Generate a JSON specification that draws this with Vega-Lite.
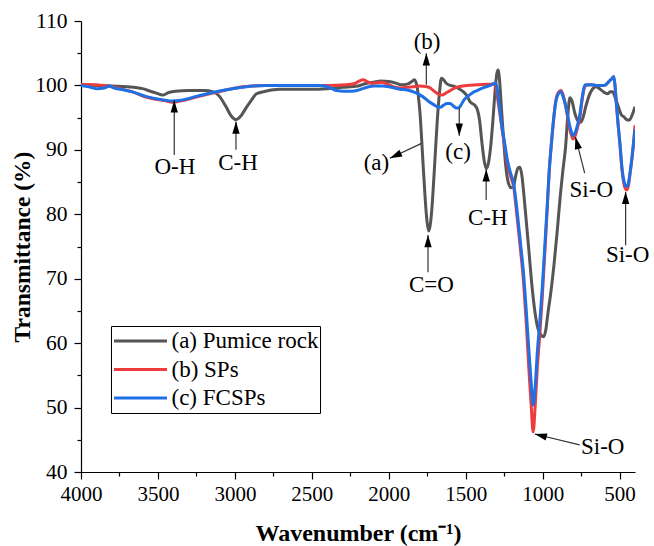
{
  "$schema": "https://vega.github.io/schema/vega-lite/v6.json",
  "width": 554,
  "height": 451,
  "autosize": {"type": "none"},
  "padding": {"left": 81, "top": 21, "right": 19, "bottom": 74},
  "background": "white",
  "config": {
    "font": "Liberation Serif",
    "view": {"stroke": null},
    "axis": {"grid": false, "labelFont": "Liberation Serif", "titleFont": "Liberation Serif", "labelFlush": false, "labelOverlap": false},
    "legend": {"labelFont": "Liberation Serif"},
    "text": {"font": "Liberation Serif"}
  },
  "datasets": {
    "spectra": [
      {"sample":"(a) Pumice rock","wn":4000,"T":100.1},{"sample":"(a) Pumice rock","wn":3900,"T":100.0},{"sample":"(a) Pumice rock","wn":3800,"T":99.9},{"sample":"(a) Pumice rock","wn":3700,"T":99.8},{"sample":"(a) Pumice rock","wn":3600,"T":99.5},{"sample":"(a) Pumice rock","wn":3550,"T":99.1},{"sample":"(a) Pumice rock","wn":3510,"T":98.8},{"sample":"(a) Pumice rock","wn":3470,"T":98.5},{"sample":"(a) Pumice rock","wn":3430,"T":98.9},{"sample":"(a) Pumice rock","wn":3385,"T":99.1},{"sample":"(a) Pumice rock","wn":3300,"T":99.2},{"sample":"(a) Pumice rock","wn":3200,"T":99.2},{"sample":"(a) Pumice rock","wn":3140,"T":99.0},{"sample":"(a) Pumice rock","wn":3100,"T":98.3},{"sample":"(a) Pumice rock","wn":3060,"T":96.8},{"sample":"(a) Pumice rock","wn":3025,"T":95.3},{"sample":"(a) Pumice rock","wn":2993,"T":94.7},{"sample":"(a) Pumice rock","wn":2960,"T":95.3},{"sample":"(a) Pumice rock","wn":2925,"T":96.6},{"sample":"(a) Pumice rock","wn":2890,"T":97.8},{"sample":"(a) Pumice rock","wn":2860,"T":98.7},{"sample":"(a) Pumice rock","wn":2800,"T":99.1},{"sample":"(a) Pumice rock","wn":2710,"T":99.4},{"sample":"(a) Pumice rock","wn":2600,"T":99.4},{"sample":"(a) Pumice rock","wn":2500,"T":99.4},{"sample":"(a) Pumice rock","wn":2400,"T":99.5},{"sample":"(a) Pumice rock","wn":2300,"T":99.7},{"sample":"(a) Pumice rock","wn":2200,"T":99.9},{"sample":"(a) Pumice rock","wn":2150,"T":100.3},{"sample":"(a) Pumice rock","wn":2100,"T":100.5},{"sample":"(a) Pumice rock","wn":2050,"T":100.7},{"sample":"(a) Pumice rock","wn":2000,"T":100.6},{"sample":"(a) Pumice rock","wn":1960,"T":100.4},{"sample":"(a) Pumice rock","wn":1920,"T":100.1},{"sample":"(a) Pumice rock","wn":1880,"T":100.2},{"sample":"(a) Pumice rock","wn":1850,"T":100.6},{"sample":"(a) Pumice rock","wn":1835,"T":100.9},{"sample":"(a) Pumice rock","wn":1822,"T":100.4},{"sample":"(a) Pumice rock","wn":1810,"T":98.8},{"sample":"(a) Pumice rock","wn":1795,"T":95},{"sample":"(a) Pumice rock","wn":1780,"T":89},{"sample":"(a) Pumice rock","wn":1765,"T":83},{"sample":"(a) Pumice rock","wn":1752,"T":79},{"sample":"(a) Pumice rock","wn":1740,"T":77.4},{"sample":"(a) Pumice rock","wn":1728,"T":78.8},{"sample":"(a) Pumice rock","wn":1715,"T":82.5},{"sample":"(a) Pumice rock","wn":1700,"T":88.5},{"sample":"(a) Pumice rock","wn":1685,"T":94.5},{"sample":"(a) Pumice rock","wn":1670,"T":99},{"sample":"(a) Pumice rock","wn":1658,"T":101.1},{"sample":"(a) Pumice rock","wn":1645,"T":100.9},{"sample":"(a) Pumice rock","wn":1625,"T":100.3},{"sample":"(a) Pumice rock","wn":1600,"T":100.0},{"sample":"(a) Pumice rock","wn":1570,"T":99.8},{"sample":"(a) Pumice rock","wn":1545,"T":99.5},{"sample":"(a) Pumice rock","wn":1515,"T":99.0},{"sample":"(a) Pumice rock","wn":1492,"T":98.4},{"sample":"(a) Pumice rock","wn":1470,"T":97.4},{"sample":"(a) Pumice rock","wn":1445,"T":97.0},{"sample":"(a) Pumice rock","wn":1425,"T":96.3},{"sample":"(a) Pumice rock","wn":1410,"T":94.6},{"sample":"(a) Pumice rock","wn":1395,"T":91.2},{"sample":"(a) Pumice rock","wn":1380,"T":88.3},{"sample":"(a) Pumice rock","wn":1366,"T":87.1},{"sample":"(a) Pumice rock","wn":1352,"T":88},{"sample":"(a) Pumice rock","wn":1338,"T":90.5},{"sample":"(a) Pumice rock","wn":1322,"T":95},{"sample":"(a) Pumice rock","wn":1308,"T":99.5},{"sample":"(a) Pumice rock","wn":1298,"T":101.8},{"sample":"(a) Pumice rock","wn":1290,"T":102.4},{"sample":"(a) Pumice rock","wn":1280,"T":100.8},{"sample":"(a) Pumice rock","wn":1268,"T":96.5},{"sample":"(a) Pumice rock","wn":1255,"T":92},{"sample":"(a) Pumice rock","wn":1240,"T":87.5},{"sample":"(a) Pumice rock","wn":1222,"T":84.8},{"sample":"(a) Pumice rock","wn":1205,"T":84.1},{"sample":"(a) Pumice rock","wn":1190,"T":84.3},{"sample":"(a) Pumice rock","wn":1175,"T":86},{"sample":"(a) Pumice rock","wn":1160,"T":87.2},{"sample":"(a) Pumice rock","wn":1148,"T":87.3},{"sample":"(a) Pumice rock","wn":1135,"T":86},{"sample":"(a) Pumice rock","wn":1120,"T":82.5},{"sample":"(a) Pumice rock","wn":1105,"T":78.5},{"sample":"(a) Pumice rock","wn":1090,"T":74.5},{"sample":"(a) Pumice rock","wn":1070,"T":69},{"sample":"(a) Pumice rock","wn":1050,"T":64.8},{"sample":"(a) Pumice rock","wn":1030,"T":62.2},{"sample":"(a) Pumice rock","wn":1010,"T":61.2},{"sample":"(a) Pumice rock","wn":994,"T":61.0},{"sample":"(a) Pumice rock","wn":980,"T":62},{"sample":"(a) Pumice rock","wn":965,"T":64.8},{"sample":"(a) Pumice rock","wn":949,"T":67.5},{"sample":"(a) Pumice rock","wn":925,"T":72.5},{"sample":"(a) Pumice rock","wn":905,"T":77.5},{"sample":"(a) Pumice rock","wn":885,"T":83},{"sample":"(a) Pumice rock","wn":870,"T":86.5},{"sample":"(a) Pumice rock","wn":851,"T":90.5},{"sample":"(a) Pumice rock","wn":836,"T":95.5},{"sample":"(a) Pumice rock","wn":823,"T":98.1},{"sample":"(a) Pumice rock","wn":810,"T":97.6},{"sample":"(a) Pumice rock","wn":790,"T":95.6},{"sample":"(a) Pumice rock","wn":770,"T":94.5},{"sample":"(a) Pumice rock","wn":753,"T":94.3},{"sample":"(a) Pumice rock","wn":738,"T":95},{"sample":"(a) Pumice rock","wn":720,"T":96.7},{"sample":"(a) Pumice rock","wn":700,"T":98.3},{"sample":"(a) Pumice rock","wn":680,"T":99.3},{"sample":"(a) Pumice rock","wn":655,"T":99.8},{"sample":"(a) Pumice rock","wn":630,"T":99.5},{"sample":"(a) Pumice rock","wn":605,"T":99},{"sample":"(a) Pumice rock","wn":579,"T":98.7},{"sample":"(a) Pumice rock","wn":560,"T":99},{"sample":"(a) Pumice rock","wn":546,"T":99},{"sample":"(a) Pumice rock","wn":530,"T":98.2},{"sample":"(a) Pumice rock","wn":510,"T":96.8},{"sample":"(a) Pumice rock","wn":490,"T":95.5},{"sample":"(a) Pumice rock","wn":471,"T":95.1},{"sample":"(a) Pumice rock","wn":455,"T":94.7},{"sample":"(a) Pumice rock","wn":438,"T":94.6},{"sample":"(a) Pumice rock","wn":420,"T":95.3},{"sample":"(a) Pumice rock","wn":408,"T":96.1},{"sample":"(a) Pumice rock","wn":400,"T":96.7},
      {"sample":"(b) SPs","wn":4000,"T":100.2},{"sample":"(b) SPs","wn":3900,"T":100.1},{"sample":"(b) SPs","wn":3820,"T":99.9},{"sample":"(b) SPs","wn":3750,"T":99.5},{"sample":"(b) SPs","wn":3665,"T":99.0},{"sample":"(b) SPs","wn":3580,"T":98.2},{"sample":"(b) SPs","wn":3500,"T":97.8},{"sample":"(b) SPs","wn":3450,"T":97.6},{"sample":"(b) SPs","wn":3405,"T":97.4},{"sample":"(b) SPs","wn":3350,"T":97.6},{"sample":"(b) SPs","wn":3250,"T":98.2},{"sample":"(b) SPs","wn":3145,"T":98.8},{"sample":"(b) SPs","wn":3035,"T":99.4},{"sample":"(b) SPs","wn":2950,"T":99.8},{"sample":"(b) SPs","wn":2885,"T":99.9},{"sample":"(b) SPs","wn":2800,"T":100.0},{"sample":"(b) SPs","wn":2600,"T":100.0},{"sample":"(b) SPs","wn":2400,"T":100.0},{"sample":"(b) SPs","wn":2280,"T":100.1},{"sample":"(b) SPs","wn":2220,"T":100.3},{"sample":"(b) SPs","wn":2190,"T":100.7},{"sample":"(b) SPs","wn":2166,"T":100.9},{"sample":"(b) SPs","wn":2140,"T":100.6},{"sample":"(b) SPs","wn":2110,"T":100.3},{"sample":"(b) SPs","wn":2075,"T":100.4},{"sample":"(b) SPs","wn":2045,"T":100.5},{"sample":"(b) SPs","wn":2010,"T":100.2},{"sample":"(b) SPs","wn":1970,"T":99.8},{"sample":"(b) SPs","wn":1927,"T":99.6},{"sample":"(b) SPs","wn":1880,"T":99.7},{"sample":"(b) SPs","wn":1842,"T":99.8},{"sample":"(b) SPs","wn":1800,"T":99.9},{"sample":"(b) SPs","wn":1753,"T":99.8},{"sample":"(b) SPs","wn":1730,"T":99.6},{"sample":"(b) SPs","wn":1710,"T":99.2},{"sample":"(b) SPs","wn":1680,"T":98.7},{"sample":"(b) SPs","wn":1655,"T":98.5},{"sample":"(b) SPs","wn":1630,"T":98.8},{"sample":"(b) SPs","wn":1601,"T":99.2},{"sample":"(b) SPs","wn":1560,"T":99.7},{"sample":"(b) SPs","wn":1520,"T":99.9},{"sample":"(b) SPs","wn":1492,"T":100.0},{"sample":"(b) SPs","wn":1420,"T":100.1},{"sample":"(b) SPs","wn":1360,"T":100.2},{"sample":"(b) SPs","wn":1318,"T":100.2},{"sample":"(b) SPs","wn":1305,"T":99.8},{"sample":"(b) SPs","wn":1290,"T":97.5},{"sample":"(b) SPs","wn":1270,"T":94.3},{"sample":"(b) SPs","wn":1250,"T":91},{"sample":"(b) SPs","wn":1230,"T":88},{"sample":"(b) SPs","wn":1210,"T":86},{"sample":"(b) SPs","wn":1188,"T":84.2},{"sample":"(b) SPs","wn":1166,"T":79.5},{"sample":"(b) SPs","wn":1144,"T":74.5},{"sample":"(b) SPs","wn":1123,"T":69.1},{"sample":"(b) SPs","wn":1105,"T":62.5},{"sample":"(b) SPs","wn":1090,"T":56.1},{"sample":"(b) SPs","wn":1075,"T":50.5},{"sample":"(b) SPs","wn":1062,"T":46.2},{"sample":"(b) SPs","wn":1048,"T":50.5},{"sample":"(b) SPs","wn":1035,"T":56.1},{"sample":"(b) SPs","wn":1018,"T":61.5},{"sample":"(b) SPs","wn":1003,"T":67},{"sample":"(b) SPs","wn":985,"T":74.5},{"sample":"(b) SPs","wn":970,"T":81},{"sample":"(b) SPs","wn":958,"T":86.5},{"sample":"(b) SPs","wn":945,"T":90.5},{"sample":"(b) SPs","wn":932,"T":94},{"sample":"(b) SPs","wn":916,"T":97.5},{"sample":"(b) SPs","wn":898,"T":98.9},{"sample":"(b) SPs","wn":882,"T":99.2},{"sample":"(b) SPs","wn":868,"T":98.6},{"sample":"(b) SPs","wn":846,"T":96.2},{"sample":"(b) SPs","wn":825,"T":93.3},{"sample":"(b) SPs","wn":812,"T":92.2},{"sample":"(b) SPs","wn":803,"T":91.7},{"sample":"(b) SPs","wn":790,"T":92.1},{"sample":"(b) SPs","wn":770,"T":93.8},{"sample":"(b) SPs","wn":760,"T":94.8},{"sample":"(b) SPs","wn":745,"T":97.5},{"sample":"(b) SPs","wn":732,"T":99.4},{"sample":"(b) SPs","wn":722,"T":100.0},{"sample":"(b) SPs","wn":690,"T":100.1},{"sample":"(b) SPs","wn":650,"T":100.0},{"sample":"(b) SPs","wn":610,"T":100.0},{"sample":"(b) SPs","wn":590,"T":100.1},{"sample":"(b) SPs","wn":570,"T":100.6},{"sample":"(b) SPs","wn":552,"T":101.0},{"sample":"(b) SPs","wn":538,"T":101.3},{"sample":"(b) SPs","wn":530,"T":100},{"sample":"(b) SPs","wn":522,"T":97.5},{"sample":"(b) SPs","wn":510,"T":94},{"sample":"(b) SPs","wn":497,"T":90.5},{"sample":"(b) SPs","wn":485,"T":87},{"sample":"(b) SPs","wn":470,"T":84.5},{"sample":"(b) SPs","wn":455,"T":83.8},{"sample":"(b) SPs","wn":445,"T":84.2},{"sample":"(b) SPs","wn":432,"T":86.3},{"sample":"(b) SPs","wn":418,"T":89},{"sample":"(b) SPs","wn":408,"T":91.5},{"sample":"(b) SPs","wn":400,"T":93.8},
      {"sample":"(c) FCSPs","wn":4000,"T":100.0},{"sample":"(c) FCSPs","wn":3950,"T":99.8},{"sample":"(c) FCSPs","wn":3900,"T":99.5},{"sample":"(c) FCSPs","wn":3850,"T":99.6},{"sample":"(c) FCSPs","wn":3817,"T":99.9},{"sample":"(c) FCSPs","wn":3785,"T":99.6},{"sample":"(c) FCSPs","wn":3720,"T":99.3},{"sample":"(c) FCSPs","wn":3665,"T":99.0},{"sample":"(c) FCSPs","wn":3580,"T":98.3},{"sample":"(c) FCSPs","wn":3500,"T":97.9},{"sample":"(c) FCSPs","wn":3450,"T":97.7},{"sample":"(c) FCSPs","wn":3405,"T":97.6},{"sample":"(c) FCSPs","wn":3350,"T":97.7},{"sample":"(c) FCSPs","wn":3250,"T":98.3},{"sample":"(c) FCSPs","wn":3145,"T":98.9},{"sample":"(c) FCSPs","wn":3035,"T":99.4},{"sample":"(c) FCSPs","wn":2950,"T":99.7},{"sample":"(c) FCSPs","wn":2885,"T":99.9},{"sample":"(c) FCSPs","wn":2800,"T":100.0},{"sample":"(c) FCSPs","wn":2600,"T":100.0},{"sample":"(c) FCSPs","wn":2450,"T":100.0},{"sample":"(c) FCSPs","wn":2400,"T":99.8},{"sample":"(c) FCSPs","wn":2370,"T":99.5},{"sample":"(c) FCSPs","wn":2338,"T":99.2},{"sample":"(c) FCSPs","wn":2290,"T":99.1},{"sample":"(c) FCSPs","wn":2240,"T":99.1},{"sample":"(c) FCSPs","wn":2207,"T":99.2},{"sample":"(c) FCSPs","wn":2170,"T":99.5},{"sample":"(c) FCSPs","wn":2130,"T":99.8},{"sample":"(c) FCSPs","wn":2095,"T":99.9},{"sample":"(c) FCSPs","wn":2040,"T":99.9},{"sample":"(c) FCSPs","wn":2000,"T":99.8},{"sample":"(c) FCSPs","wn":1960,"T":99.6},{"sample":"(c) FCSPs","wn":1927,"T":99.4},{"sample":"(c) FCSPs","wn":1880,"T":99.3},{"sample":"(c) FCSPs","wn":1850,"T":99.1},{"sample":"(c) FCSPs","wn":1820,"T":98.8},{"sample":"(c) FCSPs","wn":1796,"T":98.5},{"sample":"(c) FCSPs","wn":1770,"T":98.1},{"sample":"(c) FCSPs","wn":1740,"T":97.5},{"sample":"(c) FCSPs","wn":1700,"T":96.9},{"sample":"(c) FCSPs","wn":1680,"T":96.6},{"sample":"(c) FCSPs","wn":1666,"T":96.6},{"sample":"(c) FCSPs","wn":1645,"T":96.9},{"sample":"(c) FCSPs","wn":1622,"T":97.2},{"sample":"(c) FCSPs","wn":1601,"T":97.2},{"sample":"(c) FCSPs","wn":1580,"T":96.8},{"sample":"(c) FCSPs","wn":1560,"T":96.5},{"sample":"(c) FCSPs","wn":1547,"T":96.5},{"sample":"(c) FCSPs","wn":1530,"T":97.0},{"sample":"(c) FCSPs","wn":1510,"T":97.8},{"sample":"(c) FCSPs","wn":1492,"T":98.2},{"sample":"(c) FCSPs","wn":1460,"T":98.8},{"sample":"(c) FCSPs","wn":1427,"T":99.2},{"sample":"(c) FCSPs","wn":1380,"T":99.7},{"sample":"(c) FCSPs","wn":1340,"T":100.0},{"sample":"(c) FCSPs","wn":1307,"T":100.4},{"sample":"(c) FCSPs","wn":1295,"T":99.5},{"sample":"(c) FCSPs","wn":1280,"T":96.5},{"sample":"(c) FCSPs","wn":1265,"T":93.5},{"sample":"(c) FCSPs","wn":1250,"T":91.5},{"sample":"(c) FCSPs","wn":1230,"T":88.5},{"sample":"(c) FCSPs","wn":1210,"T":86.5},{"sample":"(c) FCSPs","wn":1188,"T":84.7},{"sample":"(c) FCSPs","wn":1166,"T":80.5},{"sample":"(c) FCSPs","wn":1144,"T":75.5},{"sample":"(c) FCSPs","wn":1123,"T":70.5},{"sample":"(c) FCSPs","wn":1105,"T":64.5},{"sample":"(c) FCSPs","wn":1090,"T":59},{"sample":"(c) FCSPs","wn":1075,"T":54},{"sample":"(c) FCSPs","wn":1062,"T":50.4},{"sample":"(c) FCSPs","wn":1048,"T":53.5},{"sample":"(c) FCSPs","wn":1035,"T":58.5},{"sample":"(c) FCSPs","wn":1018,"T":63.5},{"sample":"(c) FCSPs","wn":1003,"T":68.5},{"sample":"(c) FCSPs","wn":985,"T":75.5},{"sample":"(c) FCSPs","wn":970,"T":81.5},{"sample":"(c) FCSPs","wn":958,"T":86.5},{"sample":"(c) FCSPs","wn":945,"T":90.5},{"sample":"(c) FCSPs","wn":932,"T":94},{"sample":"(c) FCSPs","wn":916,"T":97.2},{"sample":"(c) FCSPs","wn":898,"T":98.7},{"sample":"(c) FCSPs","wn":882,"T":99.0},{"sample":"(c) FCSPs","wn":868,"T":98.3},{"sample":"(c) FCSPs","wn":846,"T":96.4},{"sample":"(c) FCSPs","wn":825,"T":93.8},{"sample":"(c) FCSPs","wn":812,"T":92.7},{"sample":"(c) FCSPs","wn":803,"T":92.2},{"sample":"(c) FCSPs","wn":790,"T":92.6},{"sample":"(c) FCSPs","wn":770,"T":94.2},{"sample":"(c) FCSPs","wn":760,"T":95.2},{"sample":"(c) FCSPs","wn":745,"T":97.8},{"sample":"(c) FCSPs","wn":732,"T":99.6},{"sample":"(c) FCSPs","wn":722,"T":100.1},{"sample":"(c) FCSPs","wn":690,"T":100.1},{"sample":"(c) FCSPs","wn":650,"T":100.0},{"sample":"(c) FCSPs","wn":610,"T":100.0},{"sample":"(c) FCSPs","wn":590,"T":100.1},{"sample":"(c) FCSPs","wn":570,"T":100.6},{"sample":"(c) FCSPs","wn":552,"T":101.0},{"sample":"(c) FCSPs","wn":538,"T":101.4},{"sample":"(c) FCSPs","wn":530,"T":100},{"sample":"(c) FCSPs","wn":522,"T":97.5},{"sample":"(c) FCSPs","wn":510,"T":94},{"sample":"(c) FCSPs","wn":497,"T":90.8},{"sample":"(c) FCSPs","wn":485,"T":87.3},{"sample":"(c) FCSPs","wn":470,"T":85},{"sample":"(c) FCSPs","wn":455,"T":84.3},{"sample":"(c) FCSPs","wn":445,"T":84.6},{"sample":"(c) FCSPs","wn":432,"T":86.5},{"sample":"(c) FCSPs","wn":418,"T":89.2},{"sample":"(c) FCSPs","wn":408,"T":91.3},{"sample":"(c) FCSPs","wn":400,"T":93.2}
    ],
    "notes": [
      {"id":"oh","label":"O-H","tx":3390,"ty":87.3,"x1":3394,"y1":89.2,"x2":3394,"y2":97.7,"pointing":"up"},
      {"id":"ch1","label":"C-H","tx":2980,"ty":88.0,"x1":2993,"y1":90.0,"x2":2993,"y2":94.4,"pointing":"up"},
      {"id":"a","label":"(a)","tx":2080,"ty":87.9,"x1":1787,"y1":91.0,"x2":1993,"y2":88.7,"pointing":"a"},
      {"id":"b","label":"(b)","tx":1751,"ty":106.8,"x1":1756,"y1":100.1,"x2":1756,"y2":105.0,"pointing":"up"},
      {"id":"c","label":"(c)","tx":1550,"ty":89.7,"x1":1542,"y1":96.5,"x2":1542,"y2":92.2,"pointing":"down"},
      {"id":"co","label":"C=O","tx":1723,"ty":69.0,"x1":1745,"y1":71.0,"x2":1745,"y2":76.8,"pointing":"up"},
      {"id":"ch2","label":"C-H","tx":1357,"ty":79.4,"x1":1367,"y1":82.2,"x2":1367,"y2":87.0,"pointing":"up"},
      {"id":"sio1","label":"Si-O","tx":684,"ty":83.8,"x1":727,"y1":86.4,"x2":787,"y2":92.0,"pointing":"sio1"},
      {"id":"sio2","label":"Si-O","tx":448,"ty":73.7,"x1":461,"y1":75.2,"x2":461,"y2":83.5,"pointing":"up"},
      {"id":"sio3","label":"Si-O","tx":610,"ty":43.9,"x1":760,"y1":44.2,"x2":1052,"y2":45.9,"pointing":"sio3"}
    ]
  },
  "resolve": {"axis": {"x": "independent", "y": "independent"}},
  "layer": [
    {
      "data": {"name": "spectra"},
      "mark": {"type": "line", "strokeWidth": 3, "interpolate": "monotone", "clip": true},
      "encoding": {
        "x": {"field": "wn", "type": "quantitative",
          "scale": {"domain": [400, 4000], "reverse": true, "nice": false, "zero": false},
          "axis": {"orient": "bottom", "values": [4000, 3500, 3000, 2500, 2000, 1500, 1000, 500], "format": "d",
            "labelFont": "Liberation Serif", "labelFontSize": 21, "labelColor": "black", "labelPadding": 4, "labelFlush": false,
            "tickColor": "black", "tickSize": 7, "tickWidth": 1.2, "domainColor": "black", "domainWidth": 1.2,
            "title": "Wavenumber (cm⁻¹)", "titleFont": "Liberation Serif", "titleFontSize": 24, "titleFontWeight": "bold",
            "titleColor": "black", "titlePadding": 17, "grid": false}},
        "y": {"field": "T", "type": "quantitative",
          "scale": {"domain": [40, 110], "nice": false, "zero": false},
          "axis": {"orient": "left", "values": [40, 50, 60, 70, 80, 90, 100, 110],
            "labelFont": "Liberation Serif", "labelFontSize": 21.5, "labelColor": "black", "labelPadding": 7, "labelFlush": false,
            "tickColor": "black", "tickSize": 7, "tickWidth": 1.2, "domainColor": "black", "domainWidth": 1.2,
            "title": "Transmittance (%)", "titleFont": "Liberation Serif", "titleFontSize": 23.5, "titleFontWeight": "bold",
            "titleColor": "black", "titlePadding": 0, "grid": false}},
        "color": {"field": "sample", "type": "nominal",
          "scale": {"domain": ["(a) Pumice rock", "(b) SPs", "(c) FCSPs"], "range": ["#555555", "#ee3b3b", "#1f6fe5"]},
          "legend": {"orient": "none", "legendX": 30, "legendY": 305, "title": null,
            "symbolType": "stroke", "symbolSize": 2809, "symbolStrokeWidth": 3,
            "labelFont": "Liberation Serif", "labelFontSize": 23, "labelColor": "black", "labelOffset": 3,
            "strokeColor": "black", "fillColor": "white", "padding": 1.5, "clipHeight": 27, "rowPadding": 1.5}}
      }
    },
    {
      "data": {"name": "notes"},
      "mark": {"type": "rule", "color": "#333333", "strokeWidth": 1.2},
      "encoding": {
        "x": {"field": "x1", "type": "quantitative",
          "scale": {"domain": [400, 4000], "reverse": true, "nice": false, "zero": false},
          "axis": {"orient": "bottom", "values": [3750, 3250, 2750, 2250, 1750, 1250, 750], "labels": false, "domain": false,
            "tickColor": "black", "tickSize": 4, "tickWidth": 1.2, "title": null, "grid": false}},
        "y": {"field": "y1", "type": "quantitative",
          "scale": {"domain": [40, 110], "nice": false, "zero": false},
          "axis": {"orient": "left", "values": [45, 55, 65, 75, 85, 95, 105], "labels": false, "domain": false,
            "tickColor": "black", "tickSize": 4, "tickWidth": 1.2, "title": null, "grid": false}},
        "x2": {"field": "x2"},
        "y2": {"field": "y2"}
      }
    },
    {
      "data": {"name": "notes"},
      "transform": [{"filter": "datum.pointing === 'up'"}],
      "mark": {"type": "point", "shape": "M0,0L0.3,1L-0.3,1Z", "filled": true, "color": "black", "opacity": 1, "size": 600},
      "encoding": {
        "x": {"field": "x2", "type": "quantitative", "axis": null},
        "y": {"field": "y2", "type": "quantitative", "axis": null}
      }
    },
    {
      "data": {"name": "notes"},
      "transform": [{"filter": "datum.pointing === 'down'"}],
      "mark": {"type": "point", "shape": "M0,0L0.3,1L-0.3,1Z", "filled": true, "color": "black", "opacity": 1, "size": 600, "angle": 180},
      "encoding": {
        "x": {"field": "x2", "type": "quantitative", "axis": null},
        "y": {"field": "y2", "type": "quantitative", "axis": null}
      }
    },
    {
      "data": {"name": "notes"},
      "transform": [{"filter": "datum.pointing === 'a'"}],
      "mark": {"type": "point", "shape": "M0,0L0.3,1L-0.3,1Z", "filled": true, "color": "black", "opacity": 1, "size": 600, "angle": 245},
      "encoding": {
        "x": {"field": "x2", "type": "quantitative", "axis": null},
        "y": {"field": "y2", "type": "quantitative", "axis": null}
      }
    },
    {
      "data": {"name": "notes"},
      "transform": [{"filter": "datum.pointing === 'sio1'"}],
      "mark": {"type": "point", "shape": "M0,0L0.3,1L-0.3,1Z", "filled": true, "color": "black", "opacity": 1, "size": 600, "angle": 346},
      "encoding": {
        "x": {"field": "x2", "type": "quantitative", "axis": null},
        "y": {"field": "y2", "type": "quantitative", "axis": null}
      }
    },
    {
      "data": {"name": "notes"},
      "transform": [{"filter": "datum.pointing === 'sio3'"}],
      "mark": {"type": "point", "shape": "M0,0L0.3,1L-0.3,1Z", "filled": true, "color": "black", "opacity": 1, "size": 600, "angle": 284},
      "encoding": {
        "x": {"field": "x2", "type": "quantitative", "axis": null},
        "y": {"field": "y2", "type": "quantitative", "axis": null}
      }
    },
    {
      "data": {"name": "notes"},
      "mark": {"type": "text", "font": "Liberation Serif", "fontSize": 23, "color": "black", "align": "center", "baseline": "middle"},
      "encoding": {
        "x": {"field": "tx", "type": "quantitative", "axis": null},
        "y": {"field": "ty", "type": "quantitative", "axis": null},
        "text": {"field": "label"}
      }
    }
  ]
}
